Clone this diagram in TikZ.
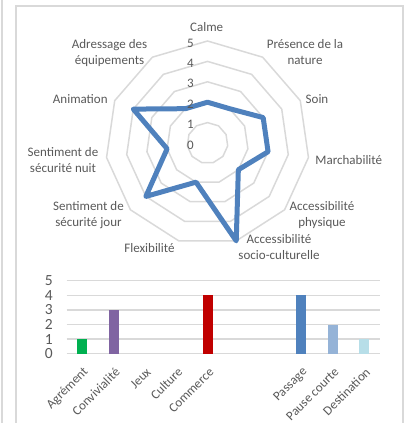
\documentclass[tikz,border=0pt]{standalone}
\usepackage{fontspec}
\setmainfont{Carlito}
\usepackage{tikz}
\usetikzlibrary{positioning}
\definecolor{textgray}{HTML}{595959}
\definecolor{gridgray}{HTML}{D9D9D9}
\definecolor{radarblue}{HTML}{4F81BD}
\definecolor{bargreen}{HTML}{00B050}
\definecolor{barpurple}{HTML}{8064A2}
\definecolor{barred}{HTML}{C00000}
\definecolor{barblue}{HTML}{4F81BD}
\definecolor{barlightblue}{HTML}{95B3D7}
\definecolor{barpaleblue}{HTML}{B7DEE8}
\tikzset{
    axislabel/.style={
        text=textgray, % 文字为灰色
        align=center,
        inner sep=0,
        font=\fontsize{13}{16}\selectfont
    },
    gridline/.style={
        draw=gridgray,
        line width=1.5
    },
    radarline/.style={
        draw=radarblue,
        line width=5, % 线条加粗
        line join=round
    }
}

\begin{document}
\begin{tikzpicture}[x=1pt, y=-1pt]
    \useasboundingbox (0,0) rectangle (406,423);
    % 边框
    \draw[gridline] (2,0) -- (2,423);
    \draw[gridline] (16,440) -- (16,6) -- (403,6) -- (403,440);
    % 雷达图
    \begin{scope}[shift={(207.5,143)}]
        \foreach \r in {1,...,5}
            \draw[gridline] ({-90}:{\r*20.4}) \foreach \k in {1,...,10} { -- ({\k*360/11-90}:{\r*20.4}) } -- cycle;
        \foreach \v [count=\k from 0] in {2,2,3,3,2,5,2,4,2,4,2}
            \coordinate (p\k) at ({\k*360/11-90}:{\v*20.4});
        \draw[radarline] (p0) -- (p1) -- (p2) -- (p3) -- (p4) -- (p5) -- (p6) -- (p7) -- (p8) -- (p9) -- (p10) -- cycle;
        \foreach \r in {0,...,5}
            \node[axislabel, anchor=east] (r\r) at (-13.5,{-\r*20.4+2}) {\r};
    \end{scope}
    \node[axislabel] (calme) at (206.7,27) {Calme};
    \node[axislabel] (presence) at (305,52.5) {Présence de la\\nature};
    \node[axislabel] (soin) at (317,99) {Soin};
    \node[axislabel] (marche) at (348.8,160) {Marchabilité};
    \node[axislabel] (accphys) at (322,214.7) {Accessibilité\\physique};
    \node[axislabel] (accsocio) at (279,247.5) {Accessibilité\\socio-culturelle};
    \node[axislabel] (flex) at (149.5,248) {Flexibilité};
    \node[axislabel] (secjour) at (88.5,214.7) {Sentiment de\\sécurité jour};
    \node[axislabel] (secnuit) at (63,160) {Sentiment de\\sécurité nuit};
    \node[axislabel] (anim) at (80.3,99) {Animation};
    \node[axislabel] (adress) at (109.5,53) {Adressage des\\équipements};
    % 柱状图
    \foreach \v in {0,...,5} {
        \draw[gridline] (66.7,{353.7-\v*14.6}) -- (380,{353.7-\v*14.6});
        \node[axislabel, font=\fontsize{15.5}{18}\selectfont, anchor=east] (y\v) at (53,{353.7-\v*14.6}) {\v};
    }
    \foreach \k/\v/\c in {0/1/bargreen, 1/3/barpurple, 4/4/barred, 7/4/barblue, 8/2/barlightblue, 9/1/barpaleblue}
        \fill[\c] ({82.3+\k*31.3-5},353.7) rectangle ({82.3+\k*31.3+5},{353.7-\v*14.6});
    \foreach \k/\t in {0/Agrément, 1/Convivialité, 2/Jeux, 3/Culture, 4/Commerce, 7/Passage, 8/Pause courte, 9/Destination}
        \node[axislabel, rotate=45, anchor=east] (c\k) at ({82.3+\k*31.3+4},370) {\t};
\end{tikzpicture}
\end{document}
